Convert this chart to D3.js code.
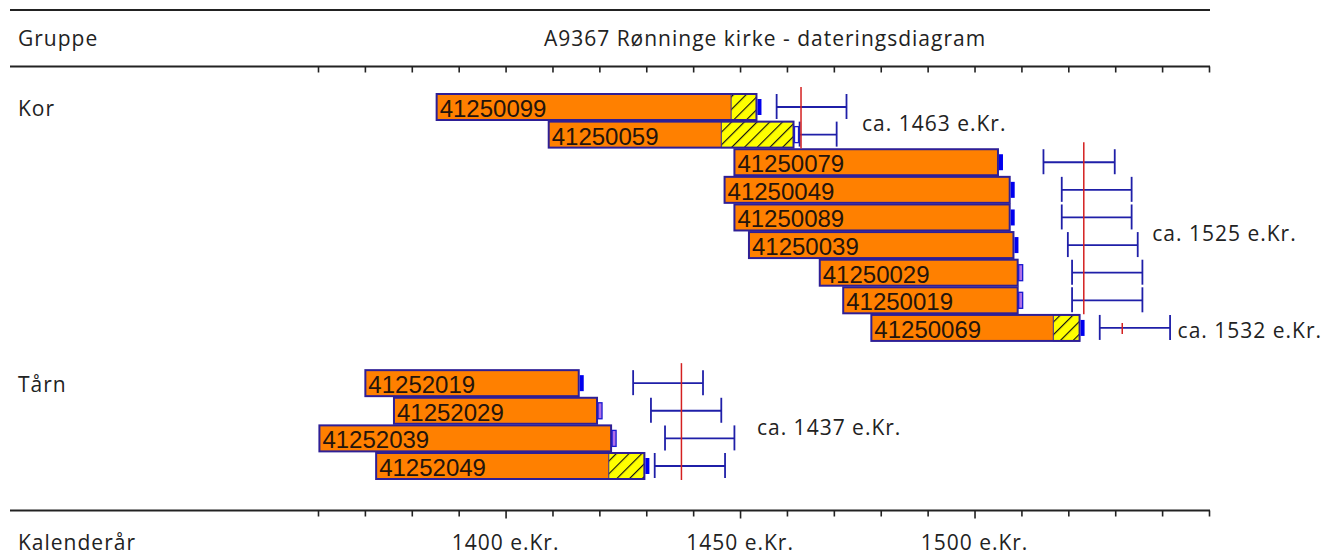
<!DOCTYPE html>
<html>
<head>
<meta charset="utf-8">
<script src="https://d3js.org/d3.v7.min.js"></script>
<style>
  body { margin: 0; background: #fff; }
  text { font-family: "Comic Sans MS", "Open Sans", sans-serif; fill: #222; }
  .lbl { font-size: 21px; letter-spacing: 1px; }
</style>
</head>
<body>
<div id="chart"></div>
<script>
// Dating diagram: one bar per sample, grouped by part of the building

var sampleIds  = ["41250099", "41250059", "41250079", "41250049", "41250089", "41250039", "41250029", "41250019", "41250069",
                  "41252019", "41252029", "41252039", "41252049"];
var sampleRow  = [0, 1, 2, 3, 4, 5, 6, 7, 8, 10, 11, 12, 13];
var firstYear  = [1385.3, 1409.2, 1448.8, 1446.7, 1448.8, 1451.9, 1467.0, 1472.0, 1478.0, 1370.1, 1376.2, 1360.3, 1372.4];
var heartEnd   = [1448.1, 1446.0, 1505.0, 1507.5, 1507.5, 1508.3, 1509.2, 1509.2, 1516.8, 1415.6, 1419.5, 1422.5, 1422.0];
var sapEnd     = [1453.5, 1461.4, null,   null,   null,   null,   null,   null,   1522.4, null,   null,   null,   1429.6];
var endMark    = ["solid", "white", "solid", "solid", "solid", "solid", "open", "open", "solid", "solid", "open", "open", "solid"];
var fellingMin = [1457.8, 1462.7, 1514.7, 1518.6, 1518.6, 1519.9, 1520.8, 1520.8, 1526.7, 1427.2, 1431.0, 1434.0, 1431.8];
var fellingMax = [1472.7, 1470.6, 1529.9, 1533.5, 1533.5, 1534.8, 1535.8, 1535.8, 1541.7, 1442.1, 1446.0, 1448.8, 1446.8];

var groupNames = ["Kor", "Tårn"];
var groupRow   = [0, 10];
var datings    = ["ca. 1463 e.Kr.", "ca. 1525 e.Kr.", "ca. 1532 e.Kr.", "ca. 1437 e.Kr."];
var datingYear = [1463.0, 1523.3, 1531.5, 1437.5];
var datingRows = [[0, 1], [2, 7], [8, 8], [10, 13]];
var datingTextYear = [1476.0, 1537.9, 1543.3, 1453.6];

var axisTicks  = d3.range(1360, 1551, 10);
var axisLabels = [1400, 1450, 1500];

var width = 1325, height = 560;

var svg = d3.select("#chart").append("svg")
    .attr("width", width)
    .attr("height", height);

var x = d3.scaleLinear().domain([1360, 1550]).range([318, 1209]);
var y = d3.scaleLinear().domain([0, 13]).range([107, 466]);
var rowH = 26;

var defs = svg.append("defs");
var hatch = defs.append("pattern")
    .attr("id", "hatch")
    .attr("patternUnits", "userSpaceOnUse")
    .attr("width", 9)
    .attr("height", 9)
    .attr("patternTransform", "rotate(45)");
hatch.append("rect").attr("width", 9).attr("height", 9).attr("fill", "#ffff00");
hatch.append("line").attr("x1", 0.5).attr("y1", 0).attr("x2", 0.5).attr("y2", 9)
    .attr("stroke", "#111").attr("stroke-width", 1.3);

// frame lines
var lineCol = "#222";
[10, 66.5, 510.5].forEach(function(yy) {
  svg.append("line")
      .attr("x1", 10).attr("x2", x(1550) + 1)
      .attr("y1", yy).attr("y2", yy)
      .attr("stroke", lineCol).attr("stroke-width", 2);
});

// tick marks on both rulers
function ruler(g) {
  g.call(d3.axisBottom(x).tickValues(axisTicks).tickSize(6).tickFormat(""));
  g.select(".domain").remove();
  g.selectAll(".tick line").attr("stroke", lineCol).attr("stroke-width", 1.6);
}
svg.append("g").attr("transform", "translate(0,66.5)").call(ruler);
svg.append("g").attr("transform", "translate(0,510.5)").call(ruler)
  .selectAll(".tick line")
    .attr("y2", function(d) { return axisLabels.indexOf(d) >= 0 ? 8 : 6; });

svg.selectAll(".axisLabel")
  .data(axisLabels)
  .enter().append("text")
    .attr("class", "lbl")
    .attr("x", function(d) { return x(d); })
    .attr("y", 550)
    .attr("text-anchor", "middle")
    .text(function(d) { return d + " e.Kr."; });

// header texts
svg.append("text").attr("class", "lbl").attr("x", 18).attr("y", 46).text("Gruppe");
svg.append("text").attr("class", "lbl").attr("x", 765).attr("y", 46).attr("text-anchor", "middle")
    .text("A9367 Rønninge kirke - dateringsdiagram");
svg.append("text").attr("class", "lbl").attr("x", 18).attr("y", 550).text("Kalenderår");

svg.selectAll(".groupName")
  .data(groupNames)
  .enter().append("text")
    .attr("class", "lbl")
    .attr("x", 18)
    .attr("y", function(d, i) { return y(groupRow[i]) + 9; })
    .text(function(d) { return d; });

// sample bars
var bars = svg.selectAll(".sample")
  .data(sampleIds)
  .enter().append("g")
    .attr("class", "sample");

bars.append("rect")
    .attr("x", function(d, i) { return x(firstYear[i]); })
    .attr("y", function(d, i) { return y(sampleRow[i]) - rowH / 2; })
    .attr("width", function(d, i) { return x(heartEnd[i]) - x(firstYear[i]); })
    .attr("height", rowH)
    .attr("fill", "#ff8000");

bars.filter(function(d, i) { return sapEnd[i] !== null; })
  .append("rect")
    .attr("x", function(d) { var i = sampleIds.indexOf(d); return x(heartEnd[i]); })
    .attr("y", function(d) { var i = sampleIds.indexOf(d); return y(sampleRow[i]) - rowH / 2; })
    .attr("width", function(d) { var i = sampleIds.indexOf(d); return x(sapEnd[i]) - x(heartEnd[i]); })
    .attr("height", rowH)
    .attr("fill", "url(#hatch)")
    .attr("stroke", "#3a2a8a")
    .attr("stroke-width", 1);

function barEnd(i) { return sapEnd[i] !== null ? sapEnd[i] : heartEnd[i]; }

bars.append("rect")
    .attr("x", function(d, i) { return x(firstYear[i]); })
    .attr("y", function(d, i) { return y(sampleRow[i]) - rowH / 2; })
    .attr("width", function(d, i) { return x(barEnd(i)) - x(firstYear[i]); })
    .attr("height", rowH)
    .attr("fill", "none")
    .attr("stroke", "#2e1f96")
    .attr("stroke-width", 2);

bars.append("rect")
    .attr("x", function(d, i) { return x(barEnd(i)) + 1; })
    .attr("y", function(d, i) { return y(sampleRow[i]) - 8; })
    .attr("width", 4)
    .attr("height", 16)
    .attr("fill", function(d, i) {
      return endMark[i] === "solid" ? "#0000ee" : endMark[i] === "open" ? "#b070e8" : "#ffffff";
    })
    .attr("stroke", "#1a1ad0")
    .attr("stroke-width", function(d, i) { return endMark[i] === "solid" ? 0 : 1.3; });

bars.append("text")
    .attr("x", function(d, i) { return x(firstYear[i]) + 3; })
    .attr("y", function(d, i) { return y(sampleRow[i]) + 10; })
    .style("font-family", "'Liberation Sans', Arial, sans-serif")
    .style("font-size", "24px")
    .style("fill", "#24140c")
    .text(function(d) { return d; });

// felling intervals
var errCol = "#1f1fa8";
var err = svg.selectAll(".felling")
  .data(sampleIds)
  .enter().append("g")
    .attr("class", "felling");

err.append("line")
    .attr("x1", function(d, i) { return x(fellingMin[i]); })
    .attr("x2", function(d, i) { return x(fellingMax[i]); })
    .attr("y1", function(d, i) { return y(sampleRow[i]); })
    .attr("y2", function(d, i) { return y(sampleRow[i]); })
    .attr("stroke", errCol).attr("stroke-width", 1.8);

[fellingMin, fellingMax].forEach(function(arr) {
  err.append("line")
      .attr("x1", function(d, i) { return x(arr[i]); })
      .attr("x2", function(d, i) { return x(arr[i]); })
      .attr("y1", function(d, i) { return y(sampleRow[i]) - 13; })
      .attr("y2", function(d, i) { return y(sampleRow[i]) + 12; })
      .attr("stroke", errCol).attr("stroke-width", 1.8);
});

// group datings
svg.selectAll(".dating")
  .data(datings)
  .enter().append("line")
    .attr("x1", function(d, i) { return x(datingYear[i]); })
    .attr("x2", function(d, i) { return x(datingYear[i]); })
    .attr("y1", function(d, i) {
      var r = datingRows[i];
      return r[0] === r[1] ? y(r[0]) - 5 : y(r[0]) - 20;
    })
    .attr("y2", function(d, i) {
      var r = datingRows[i];
      return r[0] === r[1] ? y(r[1]) + 6 : y(r[1]) + 14;
    })
    .attr("stroke", "#d42020").attr("stroke-width", 1.5);

svg.selectAll(".datingText")
  .data(datings)
  .enter().append("text")
    .attr("class", "lbl")
    .attr("x", function(d, i) { return x(datingTextYear[i]); })
    .attr("y", function(d, i) { return (y(datingRows[i][0]) + y(datingRows[i][1])) / 2 + 10; })
    .text(function(d) { return d; });
</script>
</body>
</html>
